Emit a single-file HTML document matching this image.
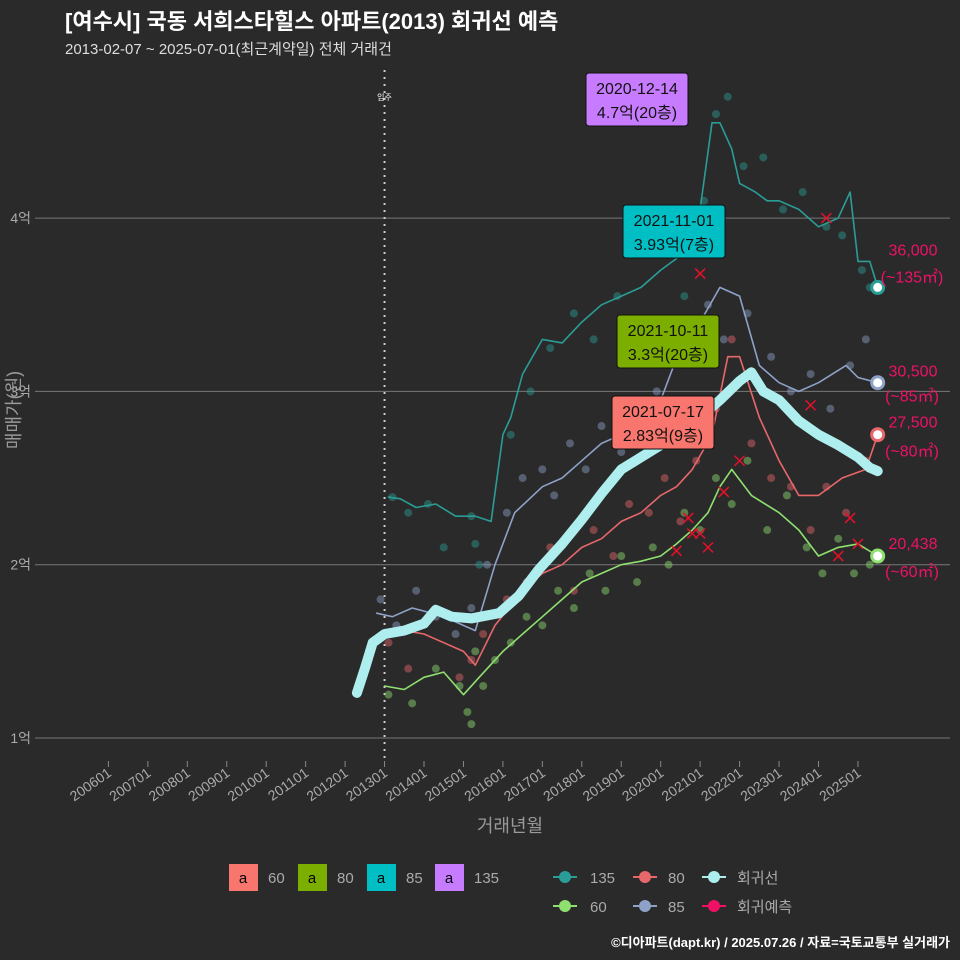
<!DOCTYPE html>
<html><head><meta charset="utf-8">
<style>
body{margin:0;background:#2a2a2b;}
svg{display:block;font-family:"Liberation Sans","Noto Sans CJK KR",sans-serif;}
</style></head>
<body>
<svg id="chart" width="960" height="960" viewBox="0 0 960 960" xmlns="http://www.w3.org/2000/svg">
<rect width="960" height="960" fill="#2a2a2b"/>
<text x="65" y="29" fill="#ffffff" font-size="22" font-weight="bold">[여수시] 국동 서희스타힐스 아파트(2013) 회귀선 예측</text>
<text x="65" y="54" fill="#dddddd" font-size="15">2013-02-07 ~ 2025-07-01(최근계약일) 전체 거래건</text>
<g id="grid"></g>
<g id="points"></g>
<g id="lines"></g>
<g id="xaxis"></g>
<g id="anno"></g>
<text x="510" y="832" fill="#999999" font-size="18" text-anchor="middle">거래년월</text>
<text transform="translate(20,410) rotate(-90)" fill="#999999" font-size="18" text-anchor="middle">매매가(원)</text>
<g font-size="15">
 <rect x="229" y="864" width="29" height="27" fill="#f8766d"/><text x="243" y="883" text-anchor="middle" font-size="15">a</text><text x="268" y="883" fill="#aaaaaa">60</text>
 <rect x="298" y="864" width="29" height="27" fill="#7cae00"/><text x="312" y="883" text-anchor="middle">a</text><text x="337" y="883" fill="#aaaaaa">80</text>
 <rect x="367" y="864" width="29" height="27" fill="#00bfc4"/><text x="381" y="883" text-anchor="middle">a</text><text x="406" y="883" fill="#aaaaaa">85</text>
 <rect x="435" y="864" width="29" height="27" fill="#c77cff"/><text x="449" y="883" text-anchor="middle">a</text><text x="474" y="883" fill="#aaaaaa">135</text>
 <g><line x1="553" y1="877" x2="577" y2="877" stroke="#2a9d96" stroke-width="2"/><circle cx="565" cy="877" r="6" fill="#2a9d96"/><text x="590" y="883" fill="#aaaaaa">135</text></g>
 <g><line x1="633" y1="877" x2="657" y2="877" stroke="#e8676a" stroke-width="2"/><circle cx="645" cy="877" r="6" fill="#e8676a"/><text x="668" y="883" fill="#aaaaaa">80</text></g>
 <g><line x1="702" y1="877" x2="726" y2="877" stroke="#aeeeee" stroke-width="2"/><circle cx="714" cy="877" r="6" fill="#aeeeee"/><text x="737" y="883" fill="#aaaaaa">회귀선</text></g>
 <g><line x1="553" y1="906" x2="577" y2="906" stroke="#90e070" stroke-width="2"/><circle cx="565" cy="906" r="6" fill="#90e070"/><text x="590" y="912" fill="#aaaaaa">60</text></g>
 <g><line x1="633" y1="906" x2="657" y2="906" stroke="#8ea2c8" stroke-width="2"/><circle cx="645" cy="906" r="6" fill="#8ea2c8"/><text x="668" y="912" fill="#aaaaaa">85</text></g>
 <g><line x1="702" y1="906" x2="726" y2="906" stroke="#ee1166" stroke-width="2"/><circle cx="714" cy="906" r="6" fill="#ee1166"/><text x="737" y="912" fill="#aaaaaa">회귀예측</text></g>
</g>
<text x="950" y="947" fill="#ffffff" font-size="13" font-weight="bold" text-anchor="end">©디아파트(dapt.kr) / 2025.07.26 / 자료=국토교통부 실거래가</text>
</svg>
<script>
const yTicks=[1,2,3,4];
const yTickLabels=["1억","2억","3억","4억"];
const xTickYears=[2006,2007,2008,2009,2010,2011,2012,2013,2014,2015,2016,2017,2018,2019,2020,2021,2022,2023,2024,2025];
const xTickLabels=["200601","200701","200801","200901","201001","201101","201201","201301","201401","201501","201601","201701","201801","201901","202001","202101","202201","202301","202401","202501"];
const regT=[2012.3,2012.5,2012.7,2013.0,2013.5,2014.0,2014.3,2014.7,2015.2,2015.9,2016.4,2016.9,2017.5,2018.0,2018.5,2019.0,2019.5,2020.0,2020.5,2021.0,2021.5,2022.0,2022.3,2022.6,2023.0,2023.5,2024.0,2024.5,2025.0,2025.3,2025.5];
const regV=[1.26,1.4,1.55,1.6,1.62,1.66,1.74,1.7,1.69,1.72,1.82,1.97,2.12,2.26,2.41,2.55,2.62,2.69,2.77,2.85,2.95,3.06,3.11,3.0,2.95,2.83,2.75,2.69,2.62,2.56,2.54];
const s135T=[2013.1,2013.4,2013.8,2014.3,2014.8,2015.3,2015.7,2016.0,2016.2,2016.5,2017.0,2017.5,2018.0,2018.5,2019.0,2019.5,2020.0,2020.6,2021.0,2021.3,2021.5,2021.8,2022.0,2022.4,2022.7,2023.0,2023.5,2024.0,2024.5,2024.8,2025.0,2025.3,2025.5];
const s135V=[2.39,2.38,2.33,2.35,2.28,2.28,2.25,2.75,2.85,3.1,3.3,3.28,3.4,3.5,3.55,3.6,3.7,3.8,4.05,4.55,4.55,4.4,4.2,4.15,4.1,4.1,4.05,3.95,4.0,4.15,3.75,3.75,3.6];
const s85T=[2012.8,2013.2,2013.7,2014.2,2014.7,2015.3,2015.8,2016.3,2017.0,2017.5,2018.0,2018.5,2019.0,2019.5,2020.0,2020.5,2021.0,2021.5,2022.0,2022.5,2023.0,2023.5,2024.0,2024.7,2025.0,2025.5];
const s85V=[1.72,1.7,1.75,1.72,1.68,1.62,2.0,2.3,2.45,2.5,2.6,2.7,2.75,2.85,2.95,3.25,3.4,3.6,3.55,3.15,3.05,3.0,3.05,3.15,3.08,3.05];
const s80T=[2013.0,2013.5,2014.0,2014.5,2015.0,2015.3,2015.8,2016.5,2017.0,2017.5,2018.0,2018.5,2019.0,2019.5,2020.0,2020.4,2020.8,2021.3,2021.7,2022.0,2022.5,2023.0,2023.5,2024.0,2024.6,2025.2,2025.5];
const s80V=[1.6,1.62,1.6,1.55,1.5,1.42,1.65,1.85,1.95,2.0,2.1,2.15,2.25,2.3,2.4,2.45,2.55,2.75,3.2,3.2,2.85,2.6,2.4,2.4,2.5,2.55,2.75];
const s60T=[2013.0,2013.5,2014.0,2014.5,2015.0,2015.4,2016.0,2016.5,2017.0,2017.5,2018.0,2018.5,2019.0,2019.5,2020.0,2020.4,2020.8,2021.2,2021.5,2021.8,2022.3,2023.0,2023.5,2024.0,2024.5,2025.0,2025.5];
const s60V=[1.3,1.28,1.35,1.38,1.25,1.35,1.5,1.6,1.7,1.8,1.9,1.95,2.0,2.02,2.05,2.12,2.2,2.3,2.45,2.55,2.4,2.3,2.2,2.05,2.1,2.12,2.05];
const p135T=[2013.2,2013.6,2014.1,2014.5,2015.2,2015.3,2015.4,2016.2,2016.7,2017.2,2017.8,2018.3,2018.9,2019.3,2019.8,2020.2,2020.6,2021.1,2021.4,2021.7,2022.1,2022.6,2023.1,2023.6,2024.2,2024.6,2025.1,2025.3];
const p135V=[2.39,2.3,2.35,2.1,2.28,2.12,2.0,2.75,3.0,3.25,3.45,3.3,3.55,3.3,3.85,3.9,3.55,4.1,4.6,4.7,4.3,4.35,4.05,4.15,3.95,3.9,3.7,3.6];
const p85T=[2012.9,2013.3,2013.8,2014.3,2014.8,2015.2,2015.6,2016.1,2016.5,2017.0,2017.3,2017.7,2018.1,2018.5,2019.0,2019.4,2019.9,2020.3,2020.8,2021.2,2021.6,2022.2,2022.8,2023.3,2023.8,2024.3,2024.8,2025.2];
const p85V=[1.8,1.65,1.85,1.7,1.6,1.75,2.0,2.3,2.5,2.55,2.4,2.7,2.55,2.8,2.65,2.9,3.0,2.85,3.2,3.5,3.3,3.45,3.2,3.0,3.1,2.9,3.15,3.3];
const p80T=[2013.1,2013.6,2014.2,2014.9,2015.2,2015.5,2016.1,2016.6,2017.2,2017.8,2018.3,2018.8,2019.2,2019.7,2020.1,2020.5,2020.9,2021.4,2021.8,2022.3,2022.8,2023.3,2023.8,2024.2,2024.7,2025.2];
const p80V=[1.55,1.4,1.7,1.35,1.45,1.6,1.8,1.9,2.1,1.85,2.2,2.05,2.35,2.3,2.5,2.25,2.6,2.9,3.3,2.7,2.5,2.45,2.2,2.45,2.3,2.6];
const p60T=[2013.1,2013.7,2014.3,2014.9,2015.1,2015.2,2015.3,2015.5,2015.8,2016.2,2016.6,2017.0,2017.4,2017.8,2018.2,2018.6,2019.0,2019.4,2019.8,2020.2,2020.6,2021.0,2021.4,2021.8,2022.2,2022.7,2023.2,2023.7,2024.1,2024.5,2024.9,2025.3];
const p60V=[1.25,1.2,1.4,1.3,1.15,1.08,1.5,1.3,1.45,1.55,1.7,1.65,1.85,1.75,1.95,1.85,2.05,1.9,2.1,2.0,2.3,2.2,2.5,2.35,2.6,2.2,2.4,2.1,1.95,2.15,1.95,2.0];
const xMarkT=[2020.4,2020.7,2020.8,2021.0,2021.2,2021.6,2022.0,2024.5,2024.8,2023.8,2021.0,2024.2,2025.0];
const xMarkV=[2.08,2.27,2.18,2.18,2.1,2.42,2.6,2.05,2.27,2.92,3.68,4.0,2.12];

const NS="http://www.w3.org/2000/svg";
function X(t){return 108.4+(t-2006)*39.45;}
function Y(v){return 738-(v-1)*173.3;}
function mk(tag,attrs,parent){const e=document.createElementNS(NS,tag);for(const k in attrs)e.setAttribute(k,attrs[k]);parent.appendChild(e);return e;}
const grid=document.getElementById('grid'),pts=document.getElementById('points'),lines=document.getElementById('lines'),xa=document.getElementById('xaxis');
yTicks.forEach((v,i)=>{
 const l=mk('line',{x1:35,x2:950,y1:Y(v),y2:Y(v),stroke:'#777',"stroke-width":1},grid);
 
 
 const t=mk('text',{x:31,y:Y(v)+5,fill:'#aaaaaa',"font-size":14,"text-anchor":"end"},grid);
 
 
 t.textContent=yTickLabels[i];
});
xTickYears.forEach((yr,i)=>{
 const x=X(yr);
 const l=mk('line',{x1:x,x2:x,y1:761,y2:767,stroke:'#888'},xa);
 
 
 const t=mk('text',{transform:`translate(${x+4},775) rotate(-35)`,fill:'#aaaaaa',"font-size":14,"text-anchor":"end"},xa);
 
 
 t.textContent=xTickLabels[i];
});
const vl=mk('line',{x1:X(2013),x2:X(2013),y1:70,y2:760,stroke:'#cccccc',"stroke-width":2,"stroke-dasharray":"2,5"},grid);


const vt=mk('text',{x:X(2013),y:100,fill:'#ffffff',"font-size":8,"text-anchor":"middle"},grid);


vt.textContent='입주';
function scatter(T,V,col,name){T.forEach((t,i)=>{const c=mk('circle',{cx:X(t),cy:Y(V[i]),r:4,fill:col,opacity:0.45},pts);
 
 });}
scatter(p135T,p135V,'#2a9d96','point-135');
scatter(p85T,p85V,'#8ea2c8','point-85');
scatter(p80T,p80V,'#e8676a','point-80');
scatter(p60T,p60V,'#90e070','point-60');
function path(T,V,col,w,name){const d=T.map((t,i)=>(i?'L':'M')+X(t).toFixed(1)+','+Y(V[i]).toFixed(1)).join('');
 const p=mk('path',{d:d,fill:'none',stroke:col,"stroke-width":w,"stroke-linejoin":"round","stroke-linecap":"round"},lines);
 
 }
path(s135T,s135V,'#2a9d96',1.6,'line-135');
path(s85T,s85V,'#8ea2c8',1.6,'line-85');
path(s80T,s80V,'#e8676a',1.6,'line-80');
path(s60T,s60V,'#90e070',1.6,'line-60');
path(regT,regV,'#aeeeee',10,'regression-line');
xMarkT.forEach((t,i)=>{const x=X(t),y=Y(xMarkV[i]);
 const p=mk('path',{d:`M${x-5},${y-5}L${x+5},${y+5}M${x-5},${y+5}L${x+5},${y-5}`,stroke:'#e8102a',"stroke-width":1.5},lines);
 
 });
const endT=[2025.5,2025.5,2025.5,2025.5];
const endV=[3.6,3.05,2.75,2.05];
const endCol=['#2a9d96','#8ea2c8','#e8676a','#90e070'];
const endLbl=['36,000','30,500','27,500','20,438'];
const endSub=['(~135㎡)','(~85㎡)','(~80㎡)','(~60㎡)'];
const off1=[-32,-6,-7,-7],off2=[-5,19,22,21];
const anno=document.getElementById('anno');
endT.forEach((t,i)=>{const x=X(t),y=Y(endV[i]);
 const c=mk('circle',{cx:x,cy:y,r:6,fill:'#fff',stroke:endCol[i],"stroke-width":3},anno);
 
 
 const a=mk('text',{x:913,y:y+off1[i],fill:'#ee1166',"font-size":16,"text-anchor":"middle"},anno);
 
 
 a.textContent=endLbl[i];
 const b=mk('text',{x:912,y:y+off2[i],fill:'#ee1166',"font-size":16,"text-anchor":"middle"},anno);
 
 
 b.textContent=endSub[i];
});
const boxX=[637,674,668,663],boxY=[73,205,315,396],boxW=[102,102,102,102];
const boxCol=['#c77cff','#00bfc4','#7cae00','#f8766d'];
const boxL1=['2020-12-14','2021-11-01','2021-10-11','2021-07-17'];
const boxL2=['4.7억(20층)','3.93억(7층)','3.3억(20층)','2.83억(9층)'];
boxL1.forEach((s,i)=>{const cx=boxX[i];
 const r=mk('rect',{x:cx-51,y:boxY[i],width:boxW[i],height:53,rx:3,fill:boxCol[i],stroke:'#111'},anno);
 
 
 const t1=mk('text',{x:cx,y:boxY[i]+21,"font-size":16,"text-anchor":"middle",fill:'#111'},anno);
 
 
 t1.textContent=s;
 const t2=mk('text',{x:cx,y:boxY[i]+45,"font-size":16,"text-anchor":"middle",fill:'#111'},anno);
 
 
 t2.textContent=boxL2[i];
});
</script>
</body></html>
